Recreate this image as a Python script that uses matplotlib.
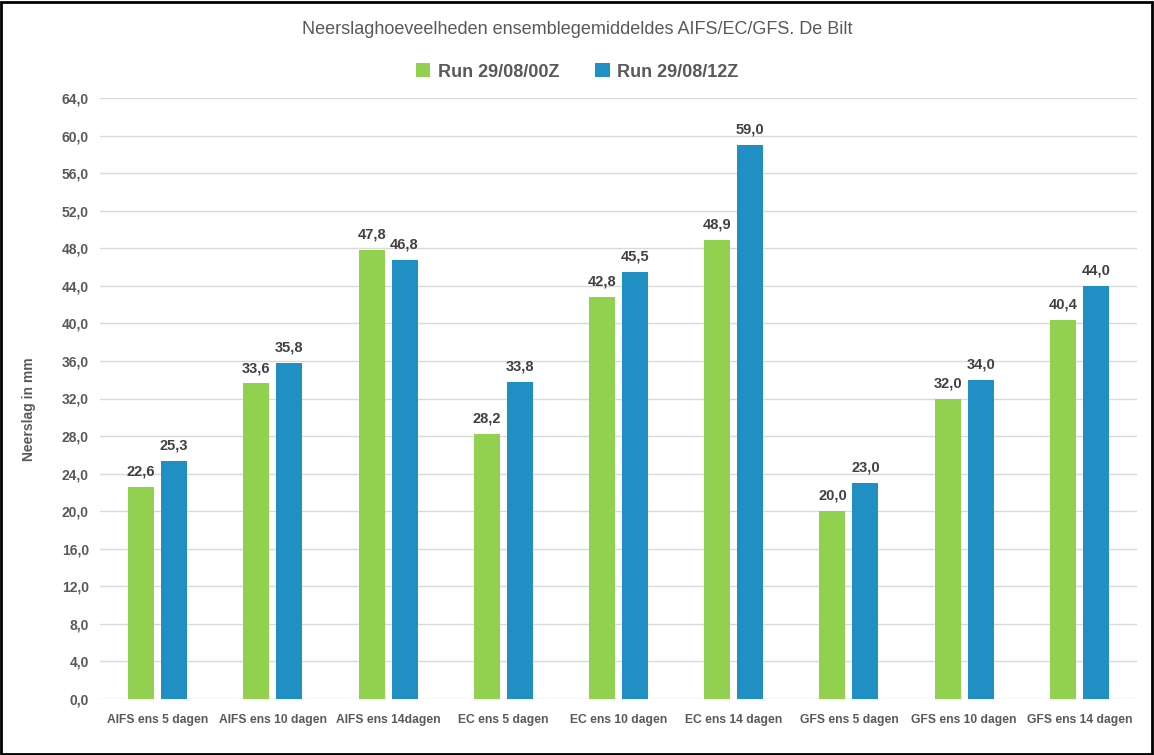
import numpy as np
import matplotlib.pyplot as plt
from matplotlib.patches import Rectangle

categories = ['AIFS ens 5 dagen', 'AIFS ens 10 dagen', 'AIFS ens 14dagen',
              'EC ens 5 dagen', 'EC ens 10 dagen', 'EC ens 14 dagen',
              'GFS ens 5 dagen', 'GFS ens 10 dagen', 'GFS ens 14 dagen']
run_00z = [22.6, 33.6, 47.8, 28.2, 42.8, 48.9, 20.0, 32.0, 40.4]
run_12z = [25.3, 35.8, 46.8, 33.8, 45.5, 59.0, 23.0, 34.0, 44.0]
series_names = ['Run 29/08/00Z', 'Run 29/08/12Z']
yticks = np.arange(0, 65, 4)

green = '#92D050'
blue = '#1F8FC4'
text_col = '#595959'
label_col = '#404040'

plt.rcParams['font.family'] = ['Liberation Sans', 'DejaVu Sans']

fig = plt.figure(figsize=(11.54, 7.55), dpi=100)
ax = fig.add_axes([100 / 1154, 1 - 699 / 755, 1037 / 1154, 601 / 755])

x = np.arange(len(categories))
w = 0.226
off = 0.143
b1 = ax.bar(x - off, run_00z, w, color=green, label=series_names[0], zorder=3)
b2 = ax.bar(x + off, run_12z, w, color=blue, label=series_names[1], zorder=3)

for bars, vals in ((b1, run_00z), (b2, run_12z)):
    for b, v in zip(bars, vals):
        ax.text(b.get_x() + b.get_width() / 2, v + 0.9, f'{v:.1f}'.replace('.', ','),
                ha='center', va='bottom', fontsize=10.5, fontweight='bold', color=label_col)

ax.set_xlim(-0.5, len(categories) - 0.5)
ax.set_ylim(0, 64)
ax.set_yticks(yticks)
ax.set_yticklabels([f'{t:.1f}'.replace('.', ',') for t in yticks],
                   fontsize=10, fontweight='bold', color=text_col)
ax.set_xticks(x)
ax.set_xticklabels(categories, fontsize=8.7, fontweight='bold', color=text_col)
ax.tick_params(axis='both', length=0, pad=8)
ax.tick_params(axis='x', pad=11)
ax.grid(axis='y', color='#D9D9D9', linewidth=1, zorder=0)
for s in ax.spines.values():
    s.set_visible(False)

ax.set_ylabel('Neerslag in mm', fontsize=10, fontweight='bold', color=text_col, labelpad=13)
ax.yaxis.set_label_coords(-0.062, 0.483)

fig.text(0.5, 1 - 30 / 755, 'Neerslaghoeveelheden ensemblegemiddeldes AIFS/EC/GFS. De Bilt',
         ha='center', va='center', fontsize=13, color=text_col)
fig.legend(handles=[b1, b2], loc='center', bbox_to_anchor=(0.5, 1 - 72 / 755), ncol=2,
           frameon=False, handlelength=0.8, handleheight=0.8, columnspacing=2.0,
           handletextpad=0.4, prop={'size': 13, 'weight': 'bold'},
           labelcolor=text_col)

fig.patches.append(Rectangle((0.001, 0.001), 0.997, 0.997, transform=fig.transFigure,
                             fill=False, edgecolor='black', linewidth=2))

fig.savefig('out.png', dpi=100)
